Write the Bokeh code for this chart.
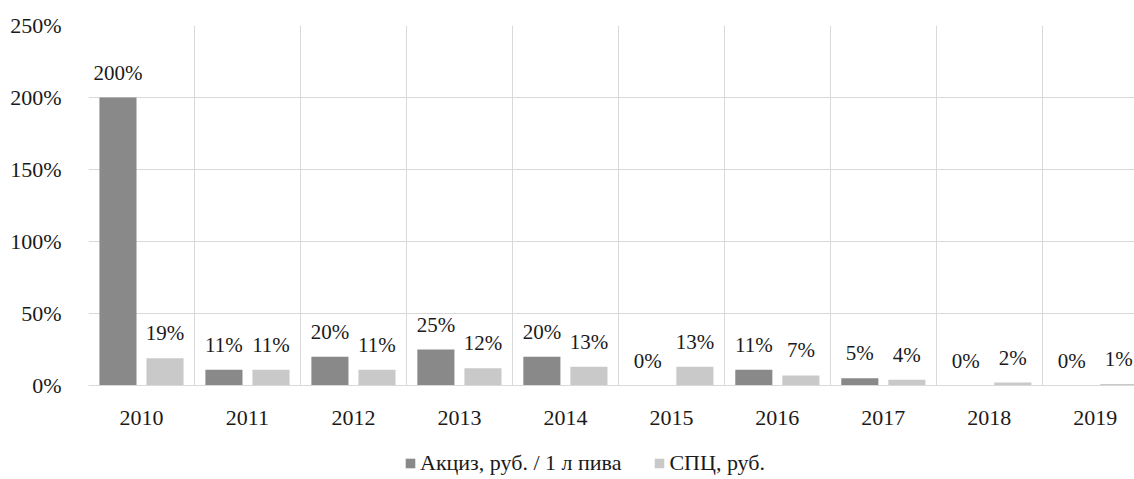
import numpy as np
from bokeh.plotting import figure
from bokeh.layouts import column
from bokeh.models import (ColumnDataSource, FixedTicker, NumeralTickFormatter, Range1d,
                          Legend, LegendItem)
from bokeh.transform import dodge
from bokeh.core.properties import value
from bokeh.embed import file_html
from bokeh.resources import INLINE

years = ["2010", "2011", "2012", "2013", "2014", "2015", "2016", "2017", "2018", "2019"]
excise = [200, 11, 20, 25, 20, 0, 11, 5, 0, 0]
spc = [19, 11, 11, 12, 13, 13, 7, 4, 2, 1]
series_names = ["Акциз, руб. / 1 л пива", "СПЦ, руб."]

FONT = "serif"
TXT = "#1a1a1a"
DARK = "#898989"
LIGHT = "#c9c9c9"
GRID = "#d9d9d9"

xs = np.arange(len(years)) + 0.5
src = ColumnDataSource(dict(
    x=xs,
    a=np.array(excise) / 100.0,
    b=np.array(spc) / 100.0,
    la=[f"{v}%" for v in excise],
    lb=[f"{v}%" for v in spc],
))

p = figure(width=1134, height=440, output_backend="svg", toolbar_location=None,
           x_range=Range1d(0, 9.87), y_range=Range1d(0, 2.5),
           min_border_left=88, min_border_right=0, min_border_top=25, min_border_bottom=55)
p.outline_line_color = None
p.background_fill_color = "white"

ra = p.vbar(x=dodge("x", -0.222, range=p.x_range), top="a", width=0.35, source=src,
            fill_color=DARK, line_color=None)
rb = p.vbar(x=dodge("x", 0.222, range=p.x_range), top="b", width=0.35, source=src,
            fill_color=LIGHT, line_color=None)

for col, lab, off in (("a", "la", -0.222), ("b", "lb", 0.222)):
    p.text(x=dodge("x", off, range=p.x_range), y=col, text=lab, source=src,
           text_align="center", text_baseline="bottom", y_offset=-13,
           text_font=value(FONT), text_font_size="21px", text_color=TXT)

# axes
p.xaxis.ticker = FixedTicker(ticks=list(xs))
p.xaxis.major_label_overrides = {float(x): y for x, y in zip(xs, years)}
p.xaxis.major_tick_line_color = None
p.xaxis.minor_tick_line_color = None
p.xaxis.axis_line_color = GRID
p.xaxis.major_label_standoff = 19
p.yaxis.ticker = FixedTicker(ticks=[0, 0.5, 1.0, 1.5, 2.0, 2.5])
p.yaxis.formatter = NumeralTickFormatter(format="0%")
p.yaxis.major_tick_line_color = None
p.yaxis.minor_tick_line_color = None
p.yaxis.axis_line_color = None
p.yaxis.major_label_standoff = 21
for ax in (p.xaxis, p.yaxis):
    ax.major_label_text_font = FONT
    ax.major_label_text_font_size = "22px"
    ax.major_label_text_color = TXT

p.xgrid.ticker = FixedTicker(ticks=list(range(0, len(years) + 1)))
p.xgrid.grid_line_color = GRID
p.ygrid.grid_line_color = GRID

# legend strip below the chart (proxy bars have zero height, so nothing is drawn)
lg = figure(width=1134, height=39, output_backend="svg", toolbar_location=None,
            x_range=Range1d(0, 1), y_range=Range1d(0, 1),
            x_axis_location=None, y_axis_location=None,
            min_border_left=0, min_border_right=0, min_border_top=0, min_border_bottom=0)
lg.outline_line_color = None
lg.grid.grid_line_color = None
proxy = ColumnDataSource(dict(x=[0.5], top=[0.0]))
la_r = lg.vbar(x="x", top="top", width=0.1, source=proxy, fill_color=DARK, line_color=None)
lb_r = lg.vbar(x="x", top="top", width=0.1, source=proxy, fill_color=LIGHT, line_color=None)

legend = Legend(items=[LegendItem(label=series_names[0], renderers=[la_r]),
                       LegendItem(label=series_names[1], renderers=[lb_r])],
                orientation="horizontal", location=(316, 3),
                padding=0, margin=0, spacing=32, label_standoff=4,
                glyph_width=12, glyph_height=12, label_height=22,
                border_line_color=None, background_fill_alpha=0,
                label_text_font=FONT, label_text_font_size="22px", label_text_color=TXT)
lg.add_layout(legend, "center")

layout = column(p, lg, spacing=0)
open("out.html", "w").write(file_html(layout, INLINE))
